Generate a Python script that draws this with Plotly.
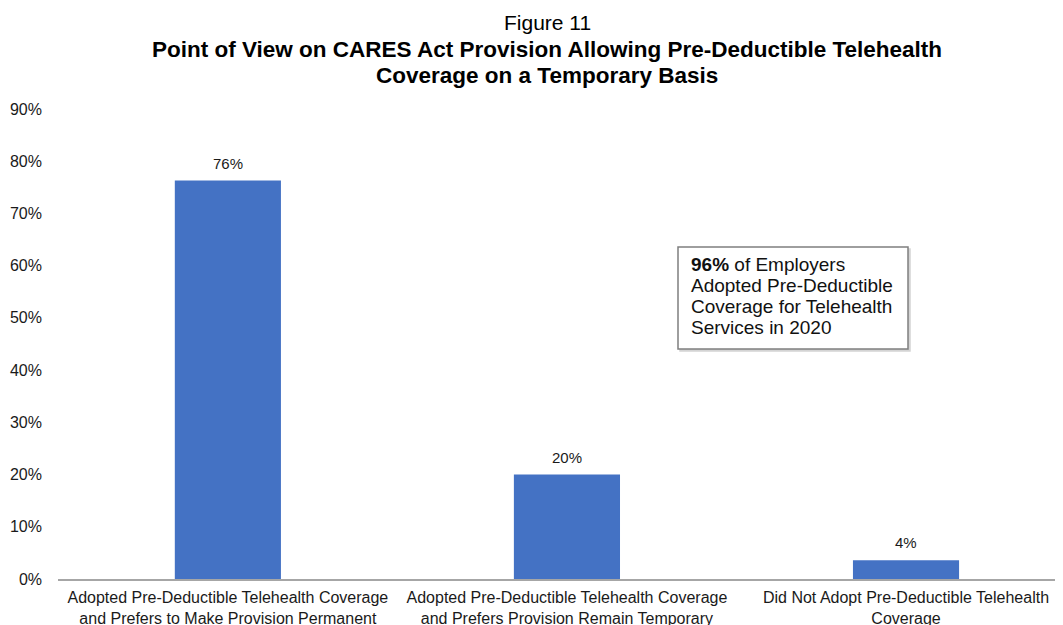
import plotly.graph_objects as go

categories = [
    "Adopted Pre-Deductible Telehealth Coverage<br>and Prefers to Make Provision Permanent",
    "Adopted Pre-Deductible Telehealth Coverage<br>and Prefers Provision Remain Temporary",
    "Did Not Adopt Pre-Deductible Telehealth<br>Coverage",
]
values = [76.3, 20.0, 3.6]
value_labels = ["76%", "20%", "4%"]
y_ticks = [0, 10, 20, 30, 40, 50, 60, 70, 80, 90]
y_tick_labels = ["0%", "10%", "20%", "30%", "40%", "50%", "60%", "70%", "80%", "90%"]
title_lines = [
    "Figure 11",
    "<b>Point of View on CARES Act Provision Allowing Pre-Deductible Telehealth</b>",
    "<b>Coverage on a Temporary Basis</b>",
]
box_lines = [
    "<b>96%</b> of Employers",
    "Adopted Pre-Deductible",
    "Coverage for Telehealth",
    "Services in 2020",
]

FONT = "Liberation Sans, Arial, sans-serif"
TXT = "#1a1a1a"

# geometry (figure pixels)
W, H = 1063, 625
L, R, T, B = 50, 8, 101, 54
PH = H - T - B
PW = W - L - R


def px_to_paper_x(px):
    return (px - L) / PW


def px_to_paper_y(py):
    return (H - B - py) / PH


fig = go.Figure()
fig.add_trace(go.Bar(
    x=[0, 1, 2], y=values, width=0.313,
    marker=dict(color="#4472C4", line=dict(width=0)),
    hoverinfo="skip",
))

for i, (v, lab) in enumerate(zip(values, value_labels)):
    fig.add_annotation(x=i, y=v, text=lab, showarrow=False, yanchor="bottom",
                       yshift=7, font=dict(family=FONT, size=15, color=TXT))

# text box with shadow
bx0, bx1, by0, by1 = 670, 900, 239, 341
fig.add_shape(type="rect", xref="paper", yref="paper",
              x0=px_to_paper_x(bx0 + 2), x1=px_to_paper_x(bx1 + 2),
              y0=px_to_paper_y(by1 + 2), y1=px_to_paper_y(by0 + 2),
              line=dict(color="#d4d4d4", width=1.5), fillcolor="#d4d4d4", layer="above")
fig.add_shape(type="rect", xref="paper", yref="paper",
              x0=px_to_paper_x(bx0), x1=px_to_paper_x(bx1),
              y0=px_to_paper_y(by1), y1=px_to_paper_y(by0),
              line=dict(color="#7f7f7f", width=1.5), fillcolor="white", layer="above")
for j, line in enumerate(box_lines):
    fig.add_annotation(x=px_to_paper_x(681), y=px_to_paper_y(256 + 21 * j),
                       xref="paper", yref="paper", text=line, showarrow=False,
                       xanchor="left", yanchor="middle",
                       font=dict(family=FONT, size=19, color="#111"))

title_x = px_to_paper_x(539)
for j, (line, ypx) in enumerate(zip(title_lines, [14, 41, 67])):
    fig.add_annotation(x=title_x, y=px_to_paper_y(ypx), xref="paper", yref="paper",
                       text=line, showarrow=False, yanchor="middle",
                       font=dict(family=FONT, size=22.5 if j else 21, color="#000"))

fig.update_layout(
    width=W, height=H,
    margin=dict(l=L, r=R, t=T, b=B, autoexpand=False),
    plot_bgcolor="white", paper_bgcolor="white",
    showlegend=False,
    font=dict(family=FONT, size=15, color=TXT),
    xaxis=dict(
        range=[-0.501, 2.463], tickmode="array", tickvals=[0, 1, 2],
        ticktext=categories, showgrid=False, zeroline=False,
        showline=True, linecolor="#a6a6a6", linewidth=1.5, ticks="",
        tickfont=dict(family=FONT, size=16, color=TXT),
        ticklabelstandoff=3, automargin=False,
        fixedrange=True,
    ),
    yaxis=dict(
        range=[0, 90], tickmode="array", tickvals=y_ticks, ticktext=y_tick_labels,
        showgrid=False, zeroline=False, showline=False, ticks="",
        tickfont=dict(family=FONT, size=16, color=TXT),
        ticklabelstandoff=15, automargin=False,
        fixedrange=True,
    ),
)

fig.write_html("out.html")
